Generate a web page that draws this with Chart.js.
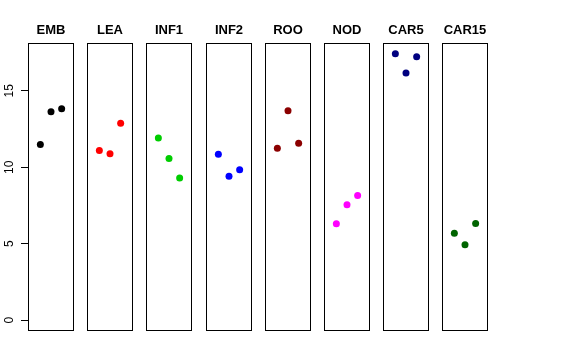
<!DOCTYPE html>
<html>
<head>
<meta charset="utf-8">
<script src="https://cdn.jsdelivr.net/npm/chart.js@4"></script>
<style>
  body { margin: 0; background: #fff; }
  #wrap { position: relative; width: 576px; height: 360px; overflow: hidden; }
  #wrap canvas { position: absolute; top: 0; }
</style>
</head>
<body>
<div id="wrap"></div>
<script>
var groups = ['EMB', 'LEA', 'INF1', 'INF2', 'ROO', 'NOD', 'CAR5', 'CAR15'];
var colors = ['#000000', '#FF0000', '#00CD00', '#0000FF', '#8B0000', '#FF00FF', '#000080', '#006400'];
var reps = [1, 2, 3];
var emb = [11.48, 13.63, 13.83];
var lea = [11.09, 10.89, 12.88];
var inf1 = [11.92, 10.57, 9.29];
var inf2 = [10.85, 9.42, 9.83];
var roo = [11.25, 13.70, 11.57];
var nod = [6.31, 7.55, 8.15];
var car5 = [17.42, 16.16, 17.22];
var car15 = [5.68, 4.94, 6.33];
var yTicks = [0, 5, 10, 15];

var series = [emb, lea, inf1, inf2, roo, nod, car5, car15];

// panel box + title, drawn around each chart area
var panelPlugin = {
  id: 'panel',
  afterDraw: function(chart) {
    var ctx = chart.ctx;
    var a = chart.chartArea;
    ctx.save();
    ctx.strokeStyle = '#000';
    ctx.lineWidth = 1;
    ctx.strokeRect(a.left + 0.5, a.top + 0.5, a.right - a.left - 1, a.bottom - a.top - 1);
    ctx.fillStyle = '#000';
    ctx.font = 'bold 13px "Liberation Sans", Arial, sans-serif';
    ctx.textAlign = 'center';
    ctx.textBaseline = 'middle';
    ctx.fillText(chart.options.plugins.panel.title, (a.left + a.right) / 2, 30);
    ctx.restore();
  }
};

var wrap = document.getElementById('wrap');
var axisW = 28;
var side = 6;
var pitch = 59.2;

for (var i = 0; i < groups.length; i++) {
  var first = (i === 0);
  var left = Math.round(28 + i * pitch);
  var cv = document.createElement('canvas');
  var w = first ? axisW + 46 + side : side + 46 + side;
  cv.width = w;
  cv.height = 360;
  cv.style.width = w + 'px';
  cv.style.height = '360px';
  cv.style.left = (first ? left - axisW : left - side) + 'px';
  wrap.appendChild(cv);

  var pts = reps.map(function(r, k) { return { x: r, y: series[i][k] }; });

  var yScale = {
    type: 'linear',
    display: first,
    min: -0.7,
    max: 18.12,
    afterBuildTicks: function(scale) {
      scale.ticks = yTicks.map(function(v) { return { value: v }; });
    },
    border: { display: false },
    grid: {
      drawOnChartArea: false,
      drawTicks: true,
      tickLength: 7,
      color: '#000',
      lineWidth: 1
    },
    ticks: {
      minRotation: 90,
      maxRotation: 90,
      crossAlign: 'center',
      padding: 5,
      color: '#000',
      font: { family: '"Liberation Sans", Arial, sans-serif', size: 12 }
    }
  };
  if (first) {
    yScale.afterFit = function(scale) { scale.width = axisW; };
  }

  new Chart(cv.getContext('2d'), {
    type: 'scatter',
    data: {
      datasets: [{
        data: pts,
        backgroundColor: colors[i],
        borderColor: colors[i],
        borderWidth: 0,
        pointRadius: 3.5,
        pointHoverRadius: 3.5
      }]
    },
    options: {
      responsive: false,
      animation: false,
      devicePixelRatio: 1,
      layout: { padding: { top: 43, bottom: 29, left: first ? 0 : side, right: side } },
      plugins: {
        legend: { display: false },
        tooltip: { enabled: false },
        title: { display: false },
        panel: { title: groups[i] }
      },
      scales: {
        x: {
          type: 'linear',
          display: false,
          min: -0.16,
          max: 4.16
        },
        y: yScale
      }
    },
    plugins: [panelPlugin]
  });
}
</script>
</body>
</html>
